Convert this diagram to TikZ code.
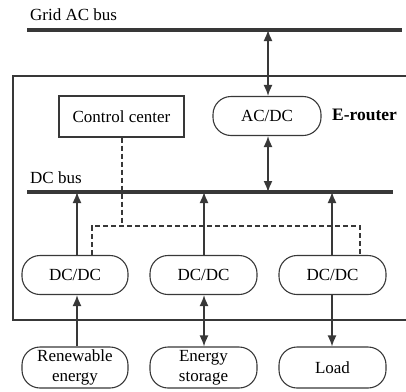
\documentclass[tikz,border=0pt]{standalone}
\usepackage{fontspec}
\setmainfont{Liberation Serif}
\usetikzlibrary{arrows.meta}
\begin{document}
\begin{tikzpicture}[x=1pt,y=-1pt,
  ln/.style={draw=black!78},
  bus/.style={ln,line width=3.6pt},
  conv/.style={ln,line width=1.1pt,rounded corners=18pt,minimum height=39pt,font=\fontsize{17}{19}\selectfont,align=center,inner sep=0pt},
  ctrl/.style={ln,line width=1.1pt,minimum height=41pt,minimum width=125pt,font=\fontsize{17}{19}\selectfont,inner sep=0pt},
  flow/.style={ln,line width=1.5pt,-{Latex[length=11pt,width=9pt]}},
  biflow/.style={ln,line width=1.5pt,{Latex[length=11pt,width=9pt]}-{Latex[length=11pt,width=9pt]}},
  sig/.style={ln,line width=1.4pt,dash pattern=on 5pt off 3pt},
  lbl/.style={font=\fontsize{17}{19}\selectfont,inner sep=0pt,anchor=base west}
]
\useasboundingbox (0,0) rectangle (406,391);
% frame
\draw[ln,line width=1.4pt] (420,76) -- (13,76) -- (13,320) -- (420,320);
% buses
\coordinate (acL) at (27,30);
\coordinate (acR) at (402,30);
\coordinate (dcL) at (27,192);
\coordinate (dcR) at (393,192);
\draw[bus] (acL) -- (acR);
\draw[bus] (dcL) -- (dcR);
\node[lbl] (tac) at (30,20) {Grid AC bus};
\node[lbl] (tdc) at (30,183) {DC bus};
\node[lbl,font=\fontsize{17.5}{19}\selectfont\bfseries] (er) at (332,120) {E-router};
% nodes
\node[ctrl] (cc) at (121.5,116.5) {Control center};
\node[conv,minimum width=108pt] (acdc) at (267,116) {AC/DC};
\node[conv,minimum width=106pt] (d1) at (75,275) {DC/DC};
\node[conv,minimum width=107pt] (d2) at (203.5,275) {DC/DC};
\node[conv,minimum width=107pt] (d3) at (332.5,275) {DC/DC};
\node[conv,minimum width=106pt,minimum height=41pt,font=\fontsize{17}{20}\selectfont] (ren) at (75,367.5) {Renewable\\energy};
\node[conv,minimum width=107pt,minimum height=41pt,font=\fontsize{17}{20}\selectfont] (sto) at (203.5,367.5) {Energy\\storage};
\node[conv,minimum width=107pt,minimum height=41pt] (load) at (332.5,367.5) {Load};
% power flows
\draw[biflow] (acdc.north -| 268,0) -- (acR -| 268,0);
\draw[biflow] (acdc.south -| 268,0) -- (dcR -| 268,0);
\draw[flow] (d1.north -| 77,0) -- (dcL -| 77,0);
\draw[flow] (d2.north -| 204,0) -- (dcL -| 204,0);
\draw[flow] (d3.north -| 332,0) -- (dcL -| 332,0);
\draw[flow] (ren.north -| 77,0) -- (d1.south -| 77,0);
\draw[biflow] (sto.north -| 204,0) -- (d2.south -| 204,0);
\draw[flow] (d3.south -| 332,0) -- (load.north -| 332,0);
% control signals
\coordinate (j) at (122,226);
\coordinate (jl) at (92,226);
\coordinate (jr) at (360,226);
\draw[sig] (cc.south -| j) -- (j);
\draw[sig] (d1.north -| jl) -- (jl) -- (jr) -- (d3.north -| jr);
\end{tikzpicture}
\end{document}
